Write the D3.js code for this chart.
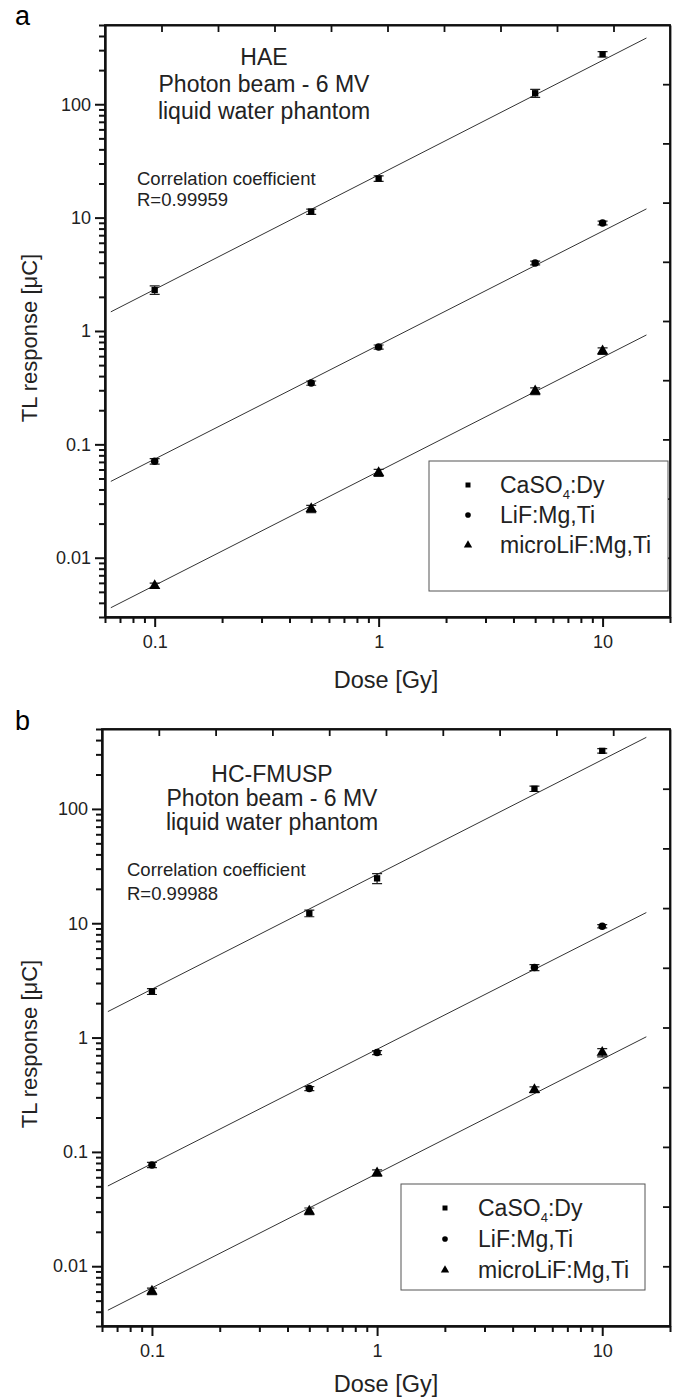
<!DOCTYPE html>
<html>
<head>
<meta charset="utf-8">
<script src="https://cdn.jsdelivr.net/npm/d3@7"></script>
<style>
  body { margin: 0; background: #fff; }
  svg { display: block; font-family: "Liberation Sans", Arial, sans-serif; }
  .fit { fill: none; stroke: #333; stroke-width: 1; }
  .err { stroke: #222; stroke-width: 1.2; fill: none; }
  .axis text { font-family: "Liberation Sans", Arial, sans-serif; font-size: 18px; fill: #222; }
  .axis path, .axis line { stroke: #111; }
</style>
</head>
<body>
<svg id="chart" width="673" height="1399"></svg>
<script>
// doses (Gy)
const doses = [0.1, 0.5, 1, 5, 10];
const seriesNames = ['CaSO4:Dy', 'LiF:Mg,Ti', 'microLiF:Mg,Ti'];

// panel a - HAE
const haeCaSO4 = [2.30, 11.3, 22.1, 125, 276];
const haeCaSO4Err = [0.2, 0.6, 1.2, 10, 15];
const haeLiF = [0.0708, 0.347, 0.722, 3.98, 8.98];
const haeLiFErr = [0.004, 0.015, 0.03, 0.15, 0.35];
const haeMicro = [0.00566, 0.0270, 0.0562, 0.295, 0.666];
const haeMicroErr = [0.0003, 0.002, 0.004, 0.02, 0.045];
// fit: value at 1 Gy and slope (log-log)
const haeFits = [[23.8, 1.01], [0.750, 1.005], [0.0578, 1.006]];

// panel b - HC-FMUSP
const hcCaSO4 = [2.53, 12.2, 24.7, 150, 322];
const hcCaSO4Err = [0.15, 0.8, 2.5, 8, 15];
const hcLiF = [0.0769, 0.358, 0.739, 4.1, 9.42];
const hcLiFErr = [0.004, 0.015, 0.03, 0.25, 0.3];
const hcMicro = [0.00604, 0.0303, 0.0655, 0.35, 0.739];
const hcMicroErr = [0.0004, 0.002, 0.004, 0.02, 0.06];
const hcFits = [[26.7, 1.003], [0.79, 1.0], [0.0647, 1.0]];

const fitRange = [0.0637, 15.7];
const xDomain = [0.06, 20];
const yDomain = [0.003, 500];
const xTickLabels = [0.1, 1, 10];
const yTickLabels = [0.01, 0.1, 1, 10, 100];

const svg = d3.select('#chart');

const panels = [
    {
        letter: 'a', letterY: 25, left: 105, right: 670, top: 25, bottom: 617,
        title: ['HAE', 'Photon beam - 6 MV', 'liquid water phantom'],
        titleX: 264, titleY: [65, 92, 119],
        corr: ['Correlation coefficient', 'R=0.99959'], corrX: 137, corrY: [185, 206],
        legend: {x: 429, y: 461, w: 239, h: 130, symX: 468, textX: 500, rows: [493, 523, 553]},
        values: [haeCaSO4, haeLiF, haeMicro], errors: [haeCaSO4Err, haeLiFErr, haeMicroErr],
        fits: haeFits, yTitle: 338, xTitle: 688
    },
    {
        letter: 'b', letterY: 730, left: 102, right: 670, top: 729, bottom: 1326,
        title: ['HC-FMUSP', 'Photon beam - 6 MV', 'liquid water phantom'],
        titleX: 272, titleY: [782, 806, 830],
        corr: ['Correlation coefficient', 'R=0.99988'], corrX: 127, corrY: [876, 900],
        legend: {x: 401, y: 1184, w: 244, h: 106, symX: 445, textX: 478, rows: [1216, 1247, 1278]},
        values: [hcCaSO4, hcLiF, hcMicro], errors: [hcCaSO4Err, hcLiFErr, hcMicroErr],
        fits: hcFits, yTitle: 1044, xTitle: 1392
    }
];

const symbols = [d3.symbolSquare, d3.symbolCircle, d3.symbolTriangle];
const symbolSizes = [40, 44, 55];

function logTicks(domain) {
    const out = [];
    for (let e = -3; e <= 3; e++) {
        for (let m = 1; m <= 9; m++) {
            const v = +(m * Math.pow(10, e)).toPrecision(3);
            if (v >= domain[0] * 0.999 && v <= domain[1] * 1.001) out.push(v);
        }
    }
    return out;
}

panels.forEach(p => {
    const x = d3.scaleLog().domain(xDomain).range([p.left, p.right]);
    const y = d3.scaleLog().domain(yDomain).range([p.bottom, p.top]);
    const g = svg.append('g');

    // panel letter
    g.append('text').attr('x', 15).attr('y', p.letterY)
        .attr('font-size', 27).text(p.letter);

    // fit lines
    const line = d3.line().x(d => x(d[0])).y(d => y(d[1]));
    p.fits.forEach(f => {
        const pts = fitRange.map(v => [v, f[0] * Math.pow(v, f[1])]);
        g.append('path').attr('class', 'fit').attr('d', line(pts));
    });

    // top and right mirror axes (linear, unlabeled, ticks inward)
    const xTop = d3.scaleLinear().domain([0, 10]).range([p.left, p.right]);
    const yRight = d3.scaleLinear().domain([0, 10]).range([p.bottom, p.top]);
    g.append('g').attr('class', 'axis').attr('transform', `translate(0,${p.top})`)
        .call(d3.axisBottom(xTop).tickValues(d3.range(1, 10)).tickFormat('').tickSizeInner(7).tickSizeOuter(0))
        .call(a => a.selectAll('line, path').attr('stroke-width', 1.8));
    g.append('g').attr('class', 'axis').attr('transform', `translate(${p.right},0)`)
        .call(d3.axisLeft(yRight).tickValues(d3.range(1, 10)).tickFormat('').tickSizeInner(7).tickSizeOuter(0))
        .call(a => a.selectAll('line, path').attr('stroke-width', 1.8));

    // left axis (log): minor then major
    const yMinor = logTicks(yDomain).filter(v => !yTickLabels.includes(v));
    g.append('g').attr('class', 'axis').attr('transform', `translate(${p.left},0)`)
        .call(d3.axisLeft(y).tickValues(yMinor).tickFormat('').tickSizeInner(6).tickSizeOuter(0))
        .call(a => a.selectAll('line').attr('stroke-width', 2))
        .call(a => a.select('.domain').attr('stroke-width', 2.4));
    g.append('g').attr('class', 'axis').attr('transform', `translate(${p.left},0)`)
        .call(d3.axisLeft(y).tickValues(yTickLabels).tickFormat(d3.format('~g')).tickSizeInner(10).tickSizeOuter(0).tickPadding(4))
        .call(a => a.selectAll('line').attr('stroke-width', 2))
        .call(a => a.select('.domain').remove());

    // bottom axis (log): minor then major
    const xMinor = logTicks(xDomain).filter(v => !xTickLabels.includes(v));
    g.append('g').attr('class', 'axis').attr('transform', `translate(0,${p.bottom})`)
        .call(d3.axisBottom(x).tickValues(xMinor).tickFormat('').tickSizeInner(6).tickSizeOuter(0))
        .call(a => a.selectAll('line').attr('stroke-width', 2))
        .call(a => a.select('.domain').attr('stroke-width', 2.4));
    g.append('g').attr('class', 'axis').attr('transform', `translate(0,${p.bottom})`)
        .call(d3.axisBottom(x).tickValues(xTickLabels).tickFormat(d3.format('~g')).tickSizeInner(10).tickSizeOuter(0))
        .call(a => a.selectAll('line').attr('stroke-width', 2))
        .call(a => a.select('.domain').remove())
        .call(a => a.selectAll('text').attr('y', 0).attr('dy', 31));

    // error bars + markers
    p.values.forEach((vals, si) => {
        const errs = p.errors[si];
        const gs = g.append('g');
        vals.forEach((v, i) => {
            const cx = x(doses[i]);
            const y0 = y(v + errs[i]), y1 = y(Math.max(v - errs[i], 1e-6));
            gs.append('path').attr('class', 'err')
                .attr('d', `M${cx},${y0}V${y1}M${cx - 5},${y0}H${cx + 5}M${cx - 5},${y1}H${cx + 5}`);
        });
        gs.selectAll('path.pt')
            .data(vals)
            .join('path')
            .classed('pt', true)
            .attr('transform', (v, i) => `translate(${x(doses[i])},${y(v)})`)
            .attr('d', d3.symbol().type(symbols[si]).size(symbolSizes[si]))
            .attr('fill', '#000');
    });

    // title text
    p.title.forEach((t, i) => {
        g.append('text').attr('x', p.titleX).attr('y', p.titleY[i])
            .attr('text-anchor', 'middle').attr('font-size', 23).attr('fill', '#222').text(t);
    });
    p.corr.forEach((t, i) => {
        g.append('text').attr('x', p.corrX).attr('y', p.corrY[i])
            .attr('font-size', 18.5).attr('fill', '#222').text(t);
    });

    // legend
    const L = p.legend;
    g.append('rect').attr('x', L.x).attr('y', L.y).attr('width', L.w).attr('height', L.h)
        .attr('fill', '#fff').attr('stroke', '#555').attr('stroke-width', 1);
    seriesNames.forEach((name, i) => {
        g.append('path')
            .attr('transform', `translate(${L.symX},${L.rows[i] - 8})`)
            .attr('d', d3.symbol().type(symbols[i]).size(i === 2 ? 30 : 25))
            .attr('fill', '#000');
        const t = g.append('text').attr('x', L.textX).attr('y', L.rows[i])
            .attr('font-size', 23).attr('fill', '#222');
        if (i === 0) {
            t.append('tspan').text('CaSO');
            t.append('tspan').attr('font-size', 13).attr('dy', 6).text('4');
            t.append('tspan').attr('dy', -6).text(':Dy');
        } else {
            t.text(name);
        }
    });

    // frame (top/right edges)
    g.append('rect')
        .attr('x', p.left).attr('y', p.top)
        .attr('width', p.right - p.left).attr('height', p.bottom - p.top)
        .attr('fill', 'none').attr('stroke', '#111').attr('stroke-width', 1.8);

    // axis titles
    g.append('text')
        .attr('transform', `translate(37,${p.yTitle}) rotate(-90)`)
        .attr('text-anchor', 'middle').attr('font-size', 22).attr('fill', '#222')
        .text('TL response [\u03bcC]');
    g.append('text').attr('x', 386).attr('y', p.xTitle)
        .attr('text-anchor', 'middle').attr('font-size', 23.5).attr('fill', '#222')
        .text('Dose [Gy]');
});
</script>
</body>
</html>
